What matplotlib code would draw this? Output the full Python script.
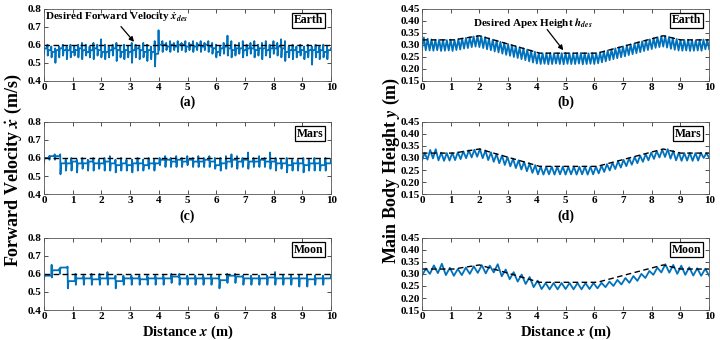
import numpy as np
import matplotlib
matplotlib.use("Agg")
import matplotlib.pyplot as plt

# desired references
v_des = 0.6
h_des_x = [0.0, 1.1, 2.0, 4.1, 6.1, 8.4, 9.0, 10.0]
h_des_y = [0.32, 0.32, 0.337, 0.265, 0.265, 0.337, 0.32, 0.32]

# forward velocity per hop: level, low spike, high spike
earth_lvl = [0.58, 0.57, 0.56, 0.57, 0.58, 0.57, 0.57, 0.56, 0.57, 0.58,
             0.57, 0.56, 0.57, 0.58, 0.57, 0.56, 0.56, 0.57, 0.58, 0.57,
             0.56, 0.57, 0.56, 0.57, 0.58, 0.57, 0.56, 0.57, 0.56, 0.55,
             0.60, 0.60, 0.59, 0.60, 0.59, 0.60, 0.60, 0.59, 0.60, 0.59,
             0.60, 0.59, 0.60, 0.59, 0.58, 0.56, 0.58, 0.59, 0.58, 0.57,
             0.58, 0.58, 0.57, 0.58, 0.58, 0.57, 0.58, 0.58, 0.57, 0.58,
             0.58, 0.59, 0.58, 0.56, 0.57, 0.57, 0.56, 0.57, 0.56, 0.57,
             0.57, 0.56, 0.57, 0.56, 0.57]
earth_lo = [0.55, 0.54, 0.53, 0.50, 0.53, 0.54, 0.52, 0.53, 0.54, 0.53,
            0.52, 0.54, 0.53, 0.52, 0.54, 0.53, 0.52, 0.53, 0.54, 0.51,
            0.53, 0.52, 0.53, 0.50, 0.53, 0.52, 0.53, 0.51, 0.52, 0.48,
            0.57, 0.56, 0.57, 0.56, 0.57, 0.56, 0.57, 0.56, 0.57, 0.56,
            0.57, 0.56, 0.57, 0.56, 0.55, 0.53, 0.54, 0.55, 0.54, 0.53,
            0.54, 0.55, 0.53, 0.54, 0.55, 0.53, 0.54, 0.52, 0.54, 0.53,
            0.55, 0.54, 0.53, 0.51, 0.53, 0.52, 0.53, 0.54, 0.52, 0.53,
            0.49, 0.53, 0.52, 0.53, 0.52]
earth_hi = [0.60, 0.59, 0.58, 0.59, 0.60, 0.59, 0.60, 0.59, 0.60, 0.61,
            0.60, 0.59, 0.61, 0.60, 0.63, 0.60, 0.59, 0.60, 0.61, 0.59,
            0.60, 0.59, 0.61, 0.60, 0.59, 0.61, 0.60, 0.59, 0.62, 0.68,
            0.62, 0.61, 0.62, 0.61, 0.62, 0.61, 0.62, 0.61, 0.62, 0.61,
            0.62, 0.61, 0.62, 0.61, 0.60, 0.59, 0.61, 0.65, 0.62, 0.60,
            0.61, 0.62, 0.60, 0.61, 0.62, 0.60, 0.61, 0.62, 0.60, 0.62,
            0.61, 0.63, 0.62, 0.59, 0.60, 0.59, 0.60, 0.59, 0.60, 0.59,
            0.60, 0.59, 0.60, 0.59, 0.58]

mars_lvl = [0.60, 0.61, 0.61, 0.57, 0.57, 0.58, 0.57, 0.57, 0.58, 0.57,
            0.57, 0.58, 0.57, 0.56, 0.57, 0.56, 0.57, 0.57, 0.56, 0.57,
            0.57, 0.59, 0.59, 0.58, 0.59, 0.58, 0.59, 0.58, 0.58, 0.59,
            0.58, 0.56, 0.57, 0.58, 0.59, 0.58, 0.59, 0.58, 0.58, 0.59,
            0.58, 0.58, 0.57, 0.57, 0.56, 0.57, 0.57, 0.56, 0.57, 0.57,
            0.56, 0.57]
mars_lo = [0.57, 0.59, 0.59, 0.51, 0.53, 0.53, 0.52, 0.54, 0.53, 0.53,
           0.54, 0.53, 0.53, 0.52, 0.53, 0.53, 0.52, 0.53, 0.53, 0.54,
           0.53, 0.56, 0.55, 0.55, 0.55, 0.55, 0.56, 0.55, 0.55, 0.55,
           0.55, 0.54, 0.53, 0.54, 0.55, 0.54, 0.55, 0.54, 0.55, 0.55,
           0.55, 0.54, 0.53, 0.54, 0.52, 0.53, 0.53, 0.52, 0.53, 0.53,
           0.53, 0.53]
mars_hi = [0.61, 0.62, 0.62, 0.59, 0.60, 0.59, 0.60, 0.59, 0.60, 0.59,
           0.60, 0.61, 0.59, 0.60, 0.59, 0.59, 0.60, 0.59, 0.60, 0.59,
           0.60, 0.61, 0.60, 0.61, 0.60, 0.61, 0.60, 0.61, 0.60, 0.61,
           0.60, 0.60, 0.61, 0.62, 0.61, 0.60, 0.63, 0.60, 0.61, 0.60,
           0.63, 0.60, 0.59, 0.60, 0.59, 0.59, 0.60, 0.59, 0.60, 0.59,
           0.60, 0.59]

moon_lvl = [0.59, 0.62, 0.635, 0.56, 0.575, 0.575, 0.57, 0.575, 0.575, 0.56,
            0.575, 0.575, 0.57, 0.575, 0.575, 0.575, 0.585, 0.575, 0.575, 0.575,
            0.575, 0.575, 0.565, 0.59, 0.585, 0.575, 0.575, 0.575, 0.58, 0.575,
            0.575, 0.575, 0.575, 0.57, 0.575, 0.575]
moon_lo = [0.57, 0.58, 0.60, 0.52, 0.54, 0.54, 0.54, 0.54, 0.54, 0.52,
           0.54, 0.54, 0.54, 0.54, 0.54, 0.54, 0.55, 0.54, 0.54, 0.54,
           0.54, 0.54, 0.52, 0.55, 0.55, 0.54, 0.54, 0.54, 0.54, 0.54,
           0.54, 0.54, 0.53, 0.53, 0.54, 0.54]
moon_hi = [0.65, 0.63, 0.64, 0.60, 0.59, 0.60, 0.60, 0.61, 0.59, 0.59,
           0.59, 0.59, 0.59, 0.59, 0.59, 0.60, 0.60, 0.59, 0.59, 0.59,
           0.59, 0.59, 0.60, 0.60, 0.59, 0.59, 0.59, 0.59, 0.61, 0.59,
           0.59, 0.59, 0.59, 0.59, 0.59, 0.59]

# body height per hop: apex and touchdown trough
earth_apex = [0.330, 0.325, 0.322, 0.320, 0.321, 0.320, 0.319, 0.321, 0.320,
              0.323, 0.326, 0.328, 0.331, 0.334, 0.337,
              0.335, 0.331, 0.326, 0.321, 0.317, 0.312, 0.308, 0.303, 0.298,
              0.294, 0.289, 0.285, 0.280, 0.276, 0.271, 0.266,
              0.265, 0.264, 0.266, 0.265, 0.264, 0.265, 0.266, 0.265, 0.264,
              0.265, 0.266, 0.265, 0.264, 0.265, 0.265,
              0.268, 0.272, 0.276, 0.280, 0.285, 0.289, 0.293, 0.297, 0.301,
              0.305, 0.310, 0.314, 0.318, 0.322, 0.327, 0.331, 0.335,
              0.337, 0.332, 0.328, 0.324, 0.320,
              0.320, 0.321, 0.320, 0.319, 0.320, 0.321, 0.320]
earth_trough = [0.280, 0.277, 0.276, 0.275, 0.277, 0.274, 0.275, 0.276, 0.274,
                0.278, 0.280, 0.284, 0.286, 0.290, 0.292,
                0.290, 0.286, 0.281, 0.277, 0.272, 0.268, 0.263, 0.258, 0.254,
                0.249, 0.245, 0.240, 0.236, 0.231, 0.226, 0.222,
                0.220, 0.221, 0.219, 0.220, 0.222, 0.220, 0.219, 0.221, 0.220,
                0.220, 0.222, 0.219, 0.220, 0.221, 0.220,
                0.223, 0.227, 0.231, 0.236, 0.240, 0.244, 0.248, 0.252, 0.257,
                0.261, 0.265, 0.269, 0.274, 0.278, 0.282, 0.287, 0.290,
                0.292, 0.288, 0.283, 0.279, 0.276,
                0.275, 0.276, 0.274, 0.275, 0.276, 0.275, 0.281]

mars_apex = [0.320, 0.333, 0.336, 0.322, 0.320, 0.321, 0.323, 0.327, 0.331, 0.334,
             0.337, 0.331, 0.323, 0.316, 0.310, 0.303, 0.297, 0.290, 0.284, 0.277,
             0.270, 0.264, 0.263, 0.264, 0.263, 0.264, 0.263, 0.264, 0.263, 0.264,
             0.263, 0.264, 0.268, 0.274, 0.280, 0.286, 0.292, 0.298, 0.304, 0.310,
             0.316, 0.322, 0.328, 0.334, 0.336, 0.329, 0.322, 0.320, 0.321, 0.320,
             0.321, 0.320]
mars_trough = [0.290, 0.293, 0.298, 0.290, 0.288, 0.289, 0.291, 0.295, 0.299, 0.302,
               0.305, 0.299, 0.291, 0.284, 0.278, 0.271, 0.265, 0.258, 0.252, 0.245,
               0.238, 0.232, 0.231, 0.232, 0.231, 0.232, 0.231, 0.232, 0.231, 0.232,
               0.231, 0.232, 0.236, 0.242, 0.248, 0.254, 0.260, 0.266, 0.272, 0.278,
               0.284, 0.290, 0.296, 0.302, 0.304, 0.297, 0.290, 0.288, 0.289, 0.288,
               0.289, 0.300]

moon_apex = [0.322, 0.335, 0.342, 0.325, 0.320, 0.326, 0.331, 0.336, 0.334, 0.340,
             0.318, 0.307, 0.297, 0.287, 0.272, 0.262, 0.262, 0.262, 0.262, 0.262,
             0.262, 0.262, 0.263, 0.268, 0.275, 0.283, 0.291, 0.300, 0.312, 0.326,
             0.340, 0.337, 0.334, 0.327, 0.323, 0.321]
moon_trough = [0.292, 0.300, 0.303, 0.295, 0.292, 0.295, 0.300, 0.304, 0.302, 0.306,
               0.290, 0.278, 0.268, 0.258, 0.245, 0.237, 0.236, 0.236, 0.237, 0.236,
               0.236, 0.237, 0.240, 0.245, 0.250, 0.256, 0.263, 0.271, 0.283, 0.296,
               0.306, 0.305, 0.300, 0.296, 0.293, 0.292]

bodies = ['Earth', 'Mars', 'Moon']
vel_data = [(earth_lvl, earth_lo, earth_hi), (mars_lvl, mars_lo, mars_hi),
            (moon_lvl, moon_lo, moon_hi)]
hgt_data = [(earth_apex, earth_trough), (mars_apex, mars_trough),
            (moon_apex, moon_trough)]
panel_tags = [('(a)', '(b)'), ('(c)', '(d)'), ('(e)', '(f)')]

BLUE = '#0072BD'

plt.rcParams['font.family'] = 'serif'
plt.rcParams['font.serif'] = ['Liberation Serif', 'DejaVu Serif']
plt.rcParams['font.weight'] = 'bold'
plt.rcParams['mathtext.fontset'] = 'stix'


def step_line(lvl, lo, hi):
    n = len(lvl)
    step = 10.0 / n
    w = 0.02
    xs, ys = [], []
    for k in range(n):
        s = k * step
        xs += [s, s + w, s + step - w, s + step - w / 2]
        ys += [lo[k], lvl[k], lvl[k], hi[k]]
    return xs, ys


def hop_line(apex, trough):
    n = len(apex)
    step = 10.0 / n
    xs, ys = [], []
    for k in range(n):
        xs += [k * step, (k + 0.5) * step]
        ys += [trough[k], apex[k]]
    xs.append(10.0)
    ys.append(trough[-1])
    return xs, ys


def style(ax, yticks, fmt):
    ax.set_xlim(0, 10)
    ax.set_xticks(range(11))
    ax.set_yticks(yticks)
    ax.set_yticklabels([fmt % t for t in yticks])
    ax.set_ylim(yticks[0], yticks[-1])
    ax.tick_params(direction='in', top=True, right=True, length=3,
                   width=0.6, labelsize=8, pad=1.5, colors='#333333',
                   labelcolor='black')
    for sp in ax.spines.values():
        sp.set_linewidth(0.6)
        sp.set_color('#555555')


def body_box(ax, name):
    ax.text(0.972, 0.835, name, transform=ax.transAxes, ha='right',
            va='center', fontsize=8.5,
            bbox=dict(boxstyle='square,pad=0.12', fc='white', ec='black', lw=0.9))


fig = plt.figure(figsize=(7.2, 3.4), dpi=100)
rows = [0.762, 0.429, 0.088]
vticks = [0.4, 0.5, 0.6, 0.7, 0.8]
hticks = [0.15, 0.20, 0.25, 0.30, 0.35, 0.40, 0.45]

for i, name in enumerate(bodies):
    axl = fig.add_axes([0.061, rows[i], 0.399, 0.213])
    axr = fig.add_axes([0.586, rows[i], 0.399, 0.213])

    xs, ys = step_line(*vel_data[i])
    axl.plot(xs, ys, color=BLUE, lw=1.3)
    axl.plot([0, 10], [v_des, v_des], '--', color='black', lw=1.0,
             dashes=(4, 2.5))
    style(axl, vticks, '%.1f')
    body_box(axl, name)

    xs, ys = hop_line(*hgt_data[i])
    axr.plot(xs, ys, color=BLUE, lw=1.3)
    axr.plot(h_des_x, h_des_y, '--', color='black', lw=1.0, dashes=(4, 2.5))
    style(axr, hticks, '%.2f')
    body_box(axr, name)

    if i < 2:
        axl.text(0.5, -0.30, panel_tags[i][0], transform=axl.transAxes,
                 ha='center', va='center', fontsize=10)
        axr.text(0.5, -0.30, panel_tags[i][1], transform=axr.transAxes,
                 ha='center', va='center', fontsize=10)
    else:
        for ax in (axl, axr):
            ax.text(0.5, -0.31, 'Distance $\\mathbfit{x}$ (m)',
                    transform=ax.transAxes, ha='center', va='center',
                    fontsize=10.5)

    if i == 0:
        axl.text(2.55, 0.752, 'Desired Forward Velocity $\\dot{x}_{des}$',
                 ha='center', va='center', fontsize=8)
        axl.annotate('', xy=(3.2, 0.604), xytext=(2.62, 0.712),
                     arrowprops=dict(arrowstyle='-|>', color='black', lw=0.9,
                                     mutation_scale=7))
        axr.text(3.85, 0.388, 'Desired Apex Height $h_{des}$',
                 ha='center', va='center', fontsize=8)
        axr.annotate('', xy=(4.98, 0.268), xytext=(4.3, 0.372),
                     arrowprops=dict(arrowstyle='-|>', color='black', lw=0.9,
                                     mutation_scale=7))

fig.text(0.018, 0.5, 'Forward Velocity $\\dot{\\mathbfit{x}}$ (m/s)',
         rotation=90, ha='center', va='center', fontsize=13)
fig.text(0.543, 0.5, 'Main Body Height $\\mathbfit{y}$ (m)',
         rotation=90, ha='center', va='center', fontsize=13)

fig.savefig('out.png', dpi=100)
